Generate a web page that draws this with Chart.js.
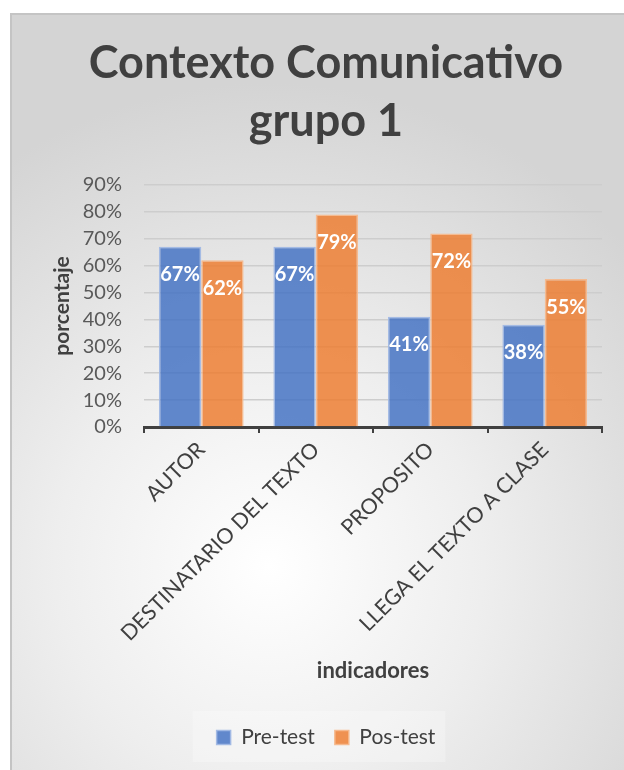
<!DOCTYPE html>
<html>
<head>
<meta charset="utf-8">
<script src="https://cdn.jsdelivr.net/npm/chart.js@4"></script>
<style>
  html, body { margin: 0; padding: 0; background: #ffffff; }
  body { width: 624px; height: 770px; position: relative; overflow: hidden; }
  #card {
    position: absolute; left: 10px; top: 13px; width: 614px; height: 757px;
    box-sizing: border-box;
    border-left: 2px solid #c4c4c4; border-top: 2px solid #c4c4c4;
    background: radial-gradient(ellipse 78% 64% at 42% 73%, #ffffff 0%, #eeeeee 45%, #d4d4d4 100%);
  }
  #card canvas { position: absolute; left: -2px; top: -2px; }
</style>
</head>
<body>
<div id="card"><canvas id="chart" width="614" height="757"></canvas></div>
<script>
// Indicators and results (share of students) before and after the intervention
const categories = ['AUTOR', 'DESTINATARIO DEL TEXTO', 'PROPOSITO', 'LLEGA EL TEXTO A CLASE'];
const preTest = [0.67, 0.67, 0.41, 0.38];
const posTest = [0.62, 0.79, 0.72, 0.55];
const seriesNames = ['Pre-test', 'Pos-test'];
const titleLines = ['Contexto Comunicativo', 'grupo 1'];
const yAxisTitle = 'porcentaje';
const xAxisTitle = 'indicadores';

const FONT = 'Lato, "Open Sans", sans-serif';

// White percentage labels drawn inside each bar, just below its top
const barValueLabels = {
  id: 'barValueLabels',
  afterDatasetsDraw(chart) {
    const ctx = chart.ctx;
    ctx.save();
    ctx.fillStyle = '#ffffff';
    ctx.font = 'bold 20px ' + FONT;
    ctx.textAlign = 'center';
    ctx.textBaseline = 'middle';
    chart.data.datasets.forEach((ds, di) => {
      chart.getDatasetMeta(di).data.forEach((bar, i) => {
        const txt = Math.round(ds.data[i] * 100) + '%';
        ctx.fillText(txt, bar.x, bar.y + 28);
      });
    });
    ctx.restore();
  }
};

// Faint panel behind the legend items
const legendPanel = {
  id: 'legendPanel',
  beforeDraw(chart) {
    const lg = chart.legend;
    if (!lg || !lg.legendHitBoxes || !lg.legendHitBoxes.length) return;
    const boxes = lg.legendHitBoxes;
    const l = Math.min(...boxes.map(b => b.left)) - 24;
    const r = Math.max(...boxes.map(b => b.left + b.width)) + 10;
    const t = Math.min(...boxes.map(b => b.top)) - 16;
    const btm = Math.max(...boxes.map(b => b.top + b.height)) + 14;
    const ctx = chart.ctx;
    ctx.save();
    ctx.fillStyle = 'rgba(255,255,255,0.25)';
    ctx.fillRect(l, t, r - l, btm - t);
    ctx.restore();
  }
};

new Chart(document.getElementById('chart'), {
  type: 'bar',
  data: {
    labels: categories,
    datasets: [
      {
        label: seriesNames[0],
        data: preTest,
        backgroundColor: 'rgba(68,114,196,0.84)',
        borderColor: 'rgba(160,184,228,0.95)',
        borderWidth: 1.5,
        categoryPercentage: 0.74,
        barPercentage: 1.0
      },
      {
        label: seriesNames[1],
        data: posTest,
        backgroundColor: 'rgba(237,125,49,0.84)',
        borderColor: 'rgba(246,184,140,0.95)',
        borderWidth: 1.5,
        categoryPercentage: 0.74,
        barPercentage: 1.0
      }
    ]
  },
  options: {
    responsive: false,
    animation: false,
    devicePixelRatio: 1,
    layout: { padding: { left: 40, right: 22, top: 0, bottom: 12 } },
    plugins: {
      title: {
        display: true,
        text: titleLines,
        color: '#404040',
        font: { family: FONT, size: 45, weight: 'bold', lineHeight: '58px' },
        padding: { top: 21, bottom: 35 }
      },
      legend: {
        display: true,
        position: 'bottom',
        labels: {
          color: '#404040',
          font: { family: FONT, size: 21 },
          boxWidth: 14,
          boxHeight: 14,
          padding: 20
        }
      },
      tooltip: { enabled: false }
    },
    scales: {
      x: {
        offset: true,
        grid: {
          offset: true,
          drawOnChartArea: false,
          drawTicks: true,
          tickLength: 6,
          color: '#404040',
          lineWidth: 2
        },
        border: { display: true, color: '#404040', width: 3 },
        ticks: {
          color: '#404040',
          font: { family: FONT, size: 21.5 },
          minRotation: 45,
          maxRotation: 45,
          autoSkip: false,
          padding: 4
        },
        title: {
          display: true,
          text: xAxisTitle,
          color: '#404040',
          font: { family: FONT, size: 22, weight: 'bold' },
          padding: { top: 0, bottom: 23 }
        },
        afterFit(scale) { scale.height = 280; }
      },
      y: {
        min: 0,
        max: 0.9,
        ticks: {
          stepSize: 0.1,
          autoSkip: false,
          color: '#595959',
          font: { family: FONT, size: 20 },
          padding: 22,
          callback: v => Math.round(v * 100) + '%'
        },
        grid: {
          color: '#cdcdcd',
          lineWidth: 1.5,
          drawTicks: false
        },
        border: { display: false },
        title: {
          display: true,
          text: yAxisTitle,
          color: '#404040',
          font: { family: FONT, size: 21, weight: 'bold' },
          padding: { top: 0, bottom: 0 }
        },
        afterFit(scale) { scale.width = 94; }
      }
    }
  },
  plugins: [legendPanel, barValueLabels]
});
</script>
</body>
</html>
